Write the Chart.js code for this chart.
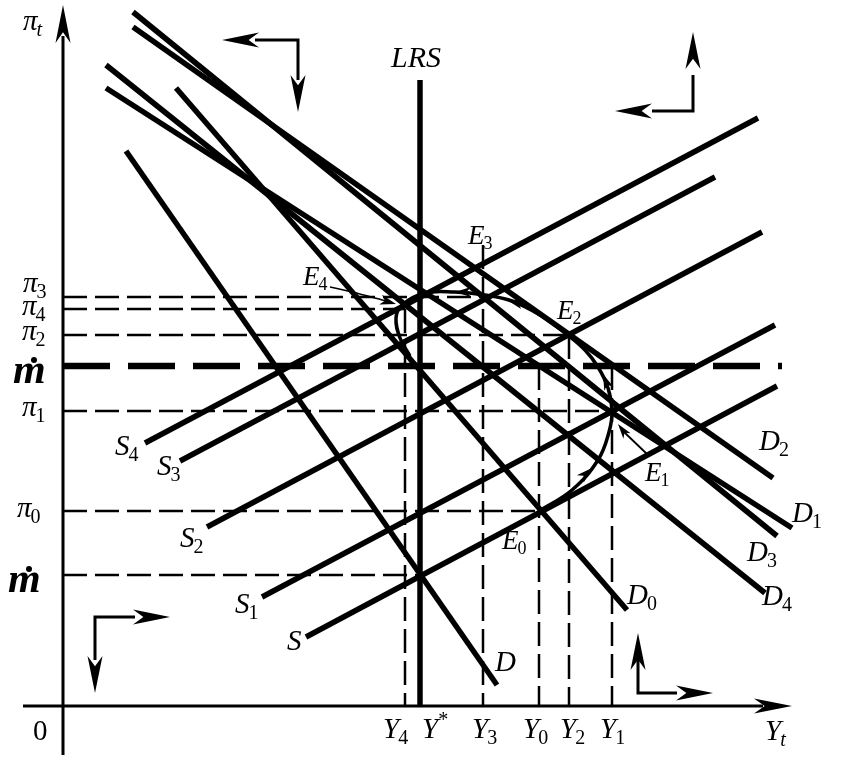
<!DOCTYPE html>
<html>
<head>
<meta charset="utf-8">
<script src="https://cdn.jsdelivr.net/npm/chart.js@4.4.1/dist/chart.umd.min.js"></script>
<style>
  body { margin: 0; background: #fff; }
  #wrap { width: 841px; height: 768px; }
</style>
</head>
<body>
<div id="wrap"><canvas id="chart" width="841" height="768"></canvas></div>
<script>
// Diagram values (output Y on x, inflation pi on y)
const yStar = 35.7;
const lrsTop = 62.6;

// supply curves: [start, end]
const supplyNames = ['S', 'S1', 'S2', 'S3', 'S4'];
const supplyLines = [
    [[24.3, 6.9], [71.4, 32.0]],
    [[19.9, 10.9], [71.2, 38.1]],
    [[14.4, 17.9], [69.9, 47.4]],
    [[11.7, 24.5], [65.2, 52.9]],
    [[8.2, 26.3], [69.5, 58.8]]
];

// demand curves: [start, end]
const demandNames = ['D', 'D0', 'D1', 'D2', 'D3', 'D4'];
const demandLines = [
    [[6.3, 55.5], [43.4, 2.1]],
    [[11.3, 61.8], [56.4, 9.6]],
    [[4.3, 61.8], [72.9, 17.8]],
    [[7.0, 67.9], [71.0, 22.8]],
    [[7.0, 69.4], [71.4, 17.0]],
    [[4.3, 64.1], [70.2, 11.3]]
];

// horizontal guides (pi3, pi4, pi2, pi1, pi0, m0)
const hGuideLevels = [40.9, 39.7, 37.1, 29.5, 19.5, 13.1];
const hGuideEnds = [42.2, 34.2, 50.6, 54.9, 47.6, 35.7];
const mDotLevel = 34.0;
const mDotEnd = 71.9;

// vertical guides (Y4, Y3, Y0, Y2, Y1)
const vGuideX = [34.2, 42.0, 47.6, 50.6, 54.9];
const vGuideTop = [39.7, 46.1, 34.0, 37.1, 34.0];

// adjustment path E0 -> E1 -> E2 -> E3 -> E4
const pathPoints = [
    [47.6, 19.5], [50.9, 21.6], [53.5, 24.6], [54.6, 27.4], [54.9, 29.5],
    [54.5, 31.8], [53.5, 33.9], [52.2, 35.6], [50.6, 37.0], [47.7, 39.1],
    [44.9, 40.5], [42.2, 41.1], [39.2, 41.4], [36.2, 41.3], [33.9, 40.1],
    [33.3, 38.8], [33.7, 36.8], [34.7, 35.0]
];
// small arrows on the path: [from, tip]
const pathArrows = [
    [[51.5, 22.5], [52.9, 23.8]],
    [[54.4, 32.2], [54.0, 33.2]],
    [[45.5, 40.3], [44.4, 40.6]],
    [[40.2, 41.4], [39.2, 41.4]],
    [[33.6, 36.4], [34.5, 35.1]]
];

// leader lines for E4 and E1
const e4Leader = [[26.7, 41.9], [28.9, 41.4], [31.2, 40.8], [32.6, 40.4]];
const e4Tip = [33.3, 40.2];
const e1Leader = [[58.5, 25.1], [56.1, 27.4]];
const e1Tip = [55.5, 28.2];

// direction icons: shaft polyline and the two arrow tips
const icons = [
    { shaft: [[19.2, 66.6], [23.5, 66.6], [23.5, 62.6]], tips: [[[23.5, 66.6], [15.9, 66.6]], [[23.5, 66.6], [23.5, 59.4]]] },
    { shaft: [[58.9, 59.5], [63.0, 59.5], [63.0, 63.1]], tips: [[[63.0, 59.5], [55.2, 59.5]], [[63.0, 59.5], [63.0, 67.4]]] },
    { shaft: [[7.2, 8.9], [3.2, 8.9], [3.2, 4.6]], tips: [[[3.2, 8.9], [10.7, 8.9]], [[3.2, 8.9], [3.2, 1.3]]] },
    { shaft: [[61.4, 1.3], [57.5, 1.3], [57.5, 5.1]], tips: [[[57.5, 1.3], [65.0, 1.3]], [[57.5, 1.3], [57.5, 7.3]]] }
];

// axes
const xAxisLine = [[-4.0, 0], [70.0, 0]];
const xAxisTip = [72.9, 0];
const yAxisLine = [[0, -4.9], [0, 67.0]];
const yAxisTip = [0, 70.1];

// text labels: [main, subscript, x, y(baseline)]
const axisLabels = [
    ['π', 't', -4.0, 67.6],
    ['0', '', -3.0, -3.4],
    ['Y', 't', 70.2, -3.4],
    ['LRS', '', 32.8, 63.9]
];
const yTickLabels = [
    ['π', '3', -4.0, 41.4],
    ['π', '4', -4.1, 39.1],
    ['π', '2', -4.1, 36.6],
    ['π', '1', -4.1, 29.0],
    ['π', '0', -4.6, 18.9]
];
const mDotLabels = [[-5.0, 32.3], [-5.5, 11.4]];
const xTickLabels = [
    ['Y', '4', 32.0, -3.2],
    ['Y', '*', 35.9, -3.2],
    ['Y', '3', 40.9, -3.2],
    ['Y', '0', 46.0, -3.2],
    ['Y', '2', 49.7, -3.2],
    ['Y', '1', 53.7, -3.2]
];
const pointLabels = [
    ['E', '3', 40.5, 46.2],
    ['E', '4', 24.0, 42.1],
    ['E', '2', 49.4, 38.7],
    ['E', '1', 58.2, 22.5],
    ['E', '0', 43.9, 15.7]
];
const curveLabels = [
    ['S', '4', 5.2, 25.1],
    ['S', '3', 9.4, 23.1],
    ['S', '2', 11.7, 15.9],
    ['S', '1', 17.2, 9.3],
    ['S', '', 22.4, 5.6],
    ['D', '', 43.2, 3.5],
    ['D', '0', 56.4, 10.2],
    ['D', '1', 72.9, 18.4],
    ['D', '2', 69.6, 25.6],
    ['D', '3', 68.4, 14.5],
    ['D', '4', 69.9, 10.1]
];

document.addEventListener('DOMContentLoaded', function() {
    const ctx = document.getElementById('chart').getContext('2d');

    function toXY(pts) {
        return pts.map(p => ({ x: p[0], y: p[1] }));
    }

    function lineSet(pts, width, dash, tension) {
        return {
            data: toXY(pts),
            showLine: true,
            borderColor: '#000',
            backgroundColor: '#000',
            borderWidth: width,
            borderDash: dash || [],
            pointRadius: 0,
            tension: tension || 0,
            fill: false
        };
    }

    const datasets = [];

    // guides
    hGuideLevels.forEach((lvl, i) => {
        datasets.push(lineSet([[0, lvl], [hGuideEnds[i], lvl]], 2.5, [24, 8]));
    });
    vGuideX.forEach((x, i) => {
        datasets.push(lineSet([[x, vGuideTop[i]], [x, 0]], 2.5, [24, 8]));
    });
    datasets.push(lineSet([[0, mDotLevel], [mDotEnd, mDotLevel]], 6.5, [47, 18]));

    // axes
    datasets.push(lineSet(xAxisLine, 3));
    datasets.push(lineSet(yAxisLine, 3));

    // LRS
    datasets.push(lineSet([[yStar, 0], [yStar, lrsTop]], 5.5));

    supplyLines.forEach(l => datasets.push(lineSet(l, 5.5)));
    demandLines.forEach(l => datasets.push(lineSet(l, 5.5)));

    // adjustment path
    datasets.push(lineSet(pathPoints, 3.5, [], 0.4));

    // leaders
    datasets.push(lineSet(e4Leader, 1.5, [], 0.4));
    datasets.push(lineSet(e1Leader, 1.8));

    // icons
    icons.forEach(ic => datasets.push(lineSet(ic.shaft, 3)));

    // Plugin: arrowheads and text
    const annotate = {
        id: 'annotate',
        afterDatasetsDraw(chart) {
            const c = chart.ctx;
            const sx = chart.scales.x, sy = chart.scales.y;
            const px = p => [sx.getPixelForValue(p[0]), sy.getPixelForValue(p[1])];

            function arrowHead(from, tip, len, wid) {
                const a = px(from), b = px(tip);
                const dx = b[0] - a[0], dy = b[1] - a[1];
                const d = Math.hypot(dx, dy) || 1;
                const ux = dx / d, uy = dy / d;
                const nx = -uy, ny = ux;
                c.save();
                c.fillStyle = '#000';
                c.beginPath();
                c.moveTo(b[0], b[1]);
                c.lineTo(b[0] - ux * len + nx * wid / 2, b[1] - uy * len + ny * wid / 2);
                c.lineTo(b[0] - ux * len * 0.72, b[1] - uy * len * 0.72);
                c.lineTo(b[0] - ux * len - nx * wid / 2, b[1] - uy * len - ny * wid / 2);
                c.closePath();
                c.fill();
                c.restore();
            }

            function label(main, sub, x, y, size) {
                const p = px([x, y]);
                c.save();
                c.fillStyle = '#000';
                c.textBaseline = 'alphabetic';
                c.textAlign = 'left';
                const italic = main === '0' ? '' : 'italic ';
                c.font = italic + size + 'px "Liberation Serif"';
                c.fillText(main, p[0], p[1]);
                const w = c.measureText(main).width;
                if (sub) {
                    const ss = Math.round(size * 0.68);
                    if (sub === '*') {
                        c.font = ss + 'px "Liberation Serif"';
                        c.fillText(sub, p[0] + w, p[1] - size * 0.42);
                    } else {
                        c.font = (/[a-z]/.test(sub) ? 'italic ' : '') + ss + 'px "Liberation Serif"';
                        c.fillText(sub, p[0] + w - 1, p[1] + size * 0.2);
                    }
                }
                c.restore();
            }

            // axis arrows
            arrowHead(yAxisLine[0], yAxisTip, 38, 15);
            arrowHead(xAxisLine[0], xAxisTip, 38, 15);

            // icon arrows
            icons.forEach(ic => ic.tips.forEach(t => arrowHead(t[0], t[1], 37, 15)));

            // path arrows
            pathArrows.forEach(a => arrowHead(a[0], a[1], 16, 10));
            arrowHead(e4Leader[e4Leader.length - 1], e4Tip, 16, 10);
            arrowHead(e1Leader[e1Leader.length - 1], e1Tip, 15, 9);

            axisLabels.forEach(l => label(l[0], l[1], l[2], l[3], l[0] === 'LRS' ? 30 : 29));
            yTickLabels.forEach(l => label(l[0], l[1], l[2], l[3], 29));
            xTickLabels.forEach(l => label(l[0], l[1], l[2], l[3], 29));
            pointLabels.forEach(l => label(l[0], l[1], l[2], l[3], 27));
            curveLabels.forEach(l => label(l[0], l[1], l[2], l[3], 29));

            // m-dot labels
            mDotLabels.forEach(m => {
                const p = px(m);
                c.save();
                c.fillStyle = '#000';
                c.font = 'italic bold 42px "Liberation Serif"';
                c.fillText('m', p[0], p[1]);
                c.beginPath();
                c.arc(p[0] + 21, p[1] - 23, 3, 0, Math.PI * 2);
                c.fill();
                c.restore();
            });
        }
    };

    new Chart(ctx, {
        type: 'scatter',
        data: { datasets: datasets },
        options: {
            responsive: false,
            animation: false,
            devicePixelRatio: 1,
            layout: { padding: 0 },
            plugins: {
                legend: { display: false },
                tooltip: { enabled: false },
                title: { display: false }
            },
            scales: {
                x: { type: 'linear', min: -6.3, max: 77.8, display: false },
                y: { type: 'linear', min: -6.2, max: 70.6, display: false }
            }
        },
        plugins: [annotate]
    });
});
</script>
</body>
</html>
